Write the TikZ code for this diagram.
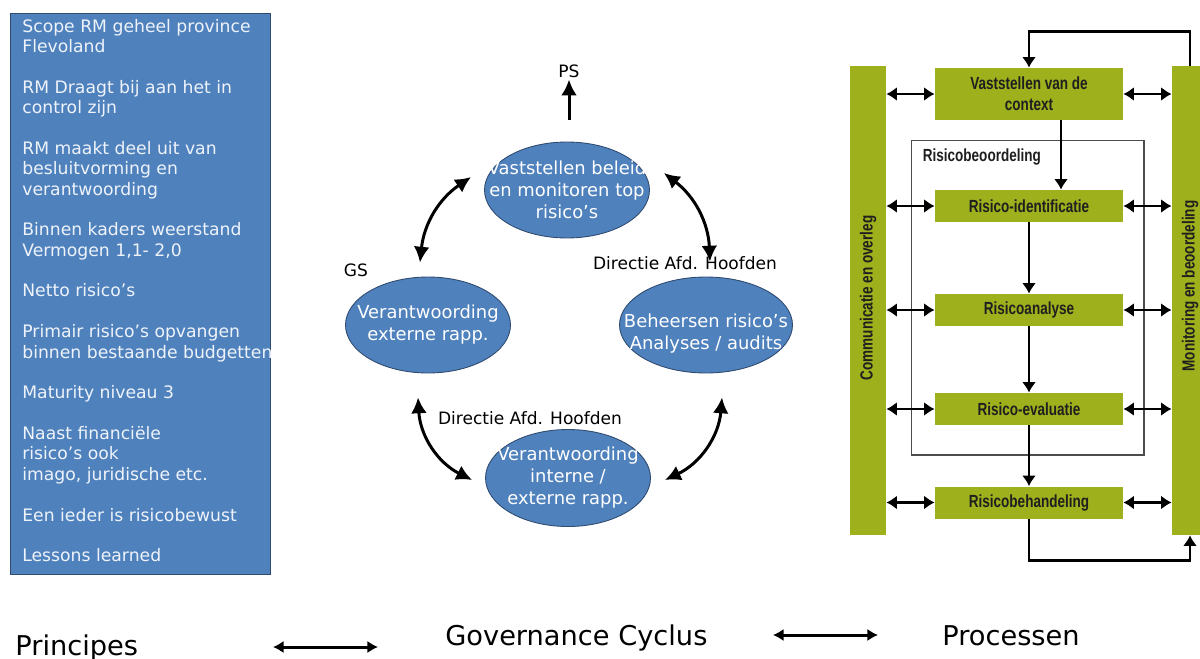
\documentclass[tikz,border=0pt]{standalone}
\usepackage{fontspec}
\setmainfont{DejaVu Sans}
\newfontfamily\procfont[FakeStretch=0.77]{Liberation Sans}
\usetikzlibrary{shapes.geometric,arrows.meta}

\definecolor{rmblue}{RGB}{79,129,189}
\definecolor{rmedge}{RGB}{47,75,112}
\definecolor{rmgreen}{RGB}{158,176,28}
\definecolor{rmtext}{RGB}{238,243,250}

\tikzset{
  princtext/.style={anchor=base west, inner sep=0pt, text=rmtext, font=\fontsize{9.8}{11.6}\selectfont},
  govnode/.style={ellipse, fill=rmblue, draw=rmedge, line width=0.5pt, minimum width=3.3cm, minimum height=1.92cm, inner sep=0pt},
  govtext/.style={align=center, inner sep=0pt, text=white, font=\fontsize{10.2}{12.5}\selectfont},
  lbl/.style={inner sep=1pt, font=\fontsize{9.7}{11}\selectfont},
  cycarrow/.style={line width=1.7pt, >={Latex[length=9pt,width=9pt]}, <->},
  procbox/.style={fill=rmgreen, minimum width=3.76cm, minimum height=0.64cm, inner sep=0pt, align=center, text=black!88, font=\procfont\bfseries\fontsize{10}{12}\selectfont},
  proctext/.style={inner sep=0pt, text=black!88, font=\procfont\bfseries\fontsize{10}{12}\selectfont},
  sidebar/.style={fill=rmgreen, minimum width=0.72cm, minimum height=9.38cm, inner sep=0pt},
  flow/.style={line width=1.5pt, >={Latex[length=6pt,width=8pt]}, ->},
  dblflow/.style={line width=1.5pt, >={Latex[length=6pt,width=8pt]}, <->},
  footlbl/.style={anchor=base west, inner sep=0pt, font=\fontsize{15.5}{18}\selectfont},
  bigdbl/.style={line width=1.7pt, >={Latex[length=6pt,width=7pt]}, <->}
}

\begin{document}
\begin{tikzpicture}[x=0.02cm, y=-0.02cm]
\useasboundingbox (0,0) rectangle (1200,659);

% principes
\node[draw=rmedge, line width=0.8pt, fill=rmblue, anchor=north west, inner sep=0pt,
  minimum width=5.2cm, minimum height=11.22cm] (princbox) at (10,13) {};
\foreach \n/\t in {0/Scope RM geheel province, 1/Flevoland, 3/RM Draagt bij aan het in, 4/control zijn,
  6/RM maakt deel uit van, 7/besluitvorming en, 8/verantwoording, 10/Binnen kaders weerstand,
  11/{Vermogen 1,1- 2,0}, 13/Netto risico’s, 15/Primair risico’s opvangen, 16/binnen bestaande budgetten,
  18/Maturity niveau 3, 20/Naast financiële, 21/risico’s ook, 22/{imago, juridische etc.},
  24/Een ieder is risicobewust, 26/Lessons learned} {
  \node[princtext] (princ\n) at (22, 32+20.38*\n) {\t};
}

% governance cyclus
\node[govnode, label={[govtext]center:Vaststellen beleid\\en monitoren top\\risico’s}] (top) at (567,190) {};
\node[govnode, label={[govtext]center:Verantwoording\\externe rapp.}] (gs) at (428,325) {};
\node[govnode, minimum width=3.46cm, label={[govtext, yshift=-0.18cm]center:Beheersen risico’s\\Analyses / audits}] (beheer) at (706,325) {};
\node[govnode, minimum height=1.94cm, label={[govtext]center:Verantwoording\\interne /\\externe rapp.}] (intern) at (568,478) {};

\node[lbl] (ps) at (569,71) {PS};
\node[lbl] (gslbl) at (356,270) {GS};
\node[lbl] (dir1) at (685,263) {Directie Afd. Hoofden};
\node[lbl] (dir2) at (530,418) {Directie Afd. Hoofden};

\draw[cycarrow, <-] (ps.south) -- ([shift={(2,-22)}]top.north);
\draw[cycarrow] ([shift={(-8,-14)}]gs.north) to[bend left=25] ([shift={(-13,-13)}]top.west);
\draw[cycarrow] ([shift={(14,-17)}]top.east) to[bend left=25] ([shift={(4,-15)}]beheer.north);
\draw[cycarrow] ([shift={(-10,24)}]gs.south) to[bend right=30] ([shift={(-13,2)}]intern.west);
\draw[cycarrow] ([shift={(14,2)}]intern.east) to[bend right=30] ([shift={(16,24)}]beheer.south);

% processen
\node[sidebar] (combar) at (868,300.5) {};
\node[sidebar] (monbar) at (1190,300.5) {};
\node[proctext, rotate=90] (comlbl) at (868,298) {Communicatie en overleg};
\node[proctext, rotate=90] (monlbl) at (1190,286) {Monitoring en beoordeling};

\node[draw=black!70, line width=0.6pt, minimum width=4.66cm, minimum height=6.3cm, inner sep=0pt] (beoord) at (1027.5,297.5) {};
\node[proctext, anchor=base west] (beoordlbl) at ([shift={(12,22)}]beoord.north west) {Risicobeoordeling};

\node[procbox, minimum height=1.04cm] (ctx) at (1029,94) {Vaststellen van de\\context};
\node[procbox] (ident) at (1029,206) {Risico-identificatie};
\node[procbox] (ana) at (1029,310) {Risicoanalyse};
\node[procbox] (eva) at (1029,409) {Risico-evaluatie};
\node[procbox] (behand) at (1029,502.5) {Risicobehandeling};

\foreach \b in {ctx,ident,ana,eva,behand} {
  \draw[dblflow] (combar.east |- \b.west) -- (\b.west);
  \draw[dblflow] (\b.east) -- (monbar.west |- \b.east);
}
\draw[flow] ([xshift=0.64cm]ctx.south) -- ([xshift=0.64cm]ident.north);
\draw[flow] (ident.south) -- (ana.north);
\draw[flow] (ana.south) -- (eva.north);
\draw[flow] (eva.south) -- (behand.north);
\draw[flow] (behand.south) -- ++(0,41.5) -| (monbar.south);
\draw[flow] (monbar.north) -- ++(0,-34) -| (ctx.north);

% onderschriften
\node[footlbl] (princ) at (15,655) {Principes};
\node[footlbl] (gov) at (445,645) {Governance Cyclus};
\node[footlbl] (proc) at (942,645) {Processen};
\coordinate (pg1) at (273,647);
\coordinate (pg2) at (378,647);
\coordinate (gp1) at (773,635);
\coordinate (gp2) at (878,635);
\draw[bigdbl] (pg1) -- (pg2);
\draw[bigdbl] (gp1) -- (gp2);
\end{tikzpicture}
\end{document}
